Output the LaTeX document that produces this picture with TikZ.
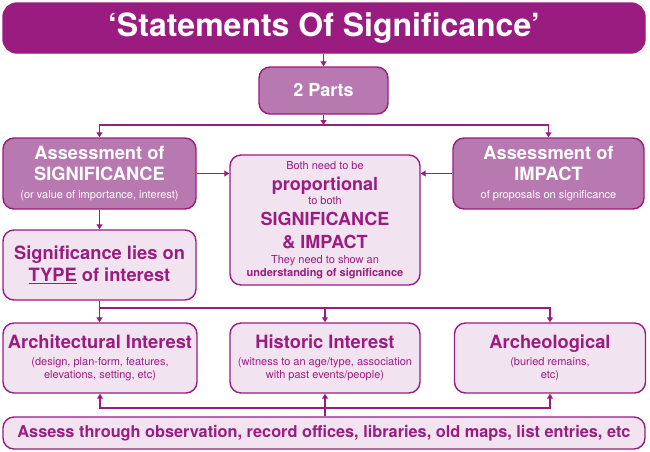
\documentclass[tikz,border=0pt]{standalone}
\usepackage{fontspec}
\setmainfont{TeX Gyre Heros}
\usetikzlibrary{arrows.meta}
\definecolor{dp}{RGB}{155,28,128}
\definecolor{mp}{RGB}{184,120,176}
\definecolor{lp}{RGB}{241,227,240}
\tikzset{
  box/.style={draw=dp, line width=1.4pt, rounded corners=11pt, inner sep=0pt, align=center},
  darkbox/.style={box, fill=dp, text=white},
  midbox/.style={box, fill=mp, text=white},
  lightbox/.style={box, fill=lp, text=dp},
  conn/.style={draw=dp, line width=1.1pt},
  arr/.style={conn, -{Triangle[length=5pt,width=6pt]}},
}
\newcommand{\bigb}{\bfseries\fontsize{18.3}{21}\selectfont}
\newcommand{\smallr}{\mdseries\fontsize{11}{13}\selectfont}
\begin{document}
\begin{tikzpicture}[x=1pt,y=-1pt]
\fill[white] (0,0) rectangle (650,451);
\useasboundingbox (0,0) rectangle (650,451);

\node[darkbox, minimum width=642pt, minimum height=50pt, rounded corners=14pt,
      font=\bfseries\fontsize{32}{36}\selectfont] (title) at (324,28) {‘Statements Of Significance’};

\node[midbox, minimum width=129pt, minimum height=47pt, font=\bfseries\fontsize{18}{21}\selectfont]
  (parts) at (323.5,90.5) {2 Parts};

\node[midbox, minimum width=193pt, minimum height=71pt, font=\bigb] (asig) at (99.5,173.5)
  {Assessment of\\SIGNIFICANCE\\[-3pt]{\smallr (or value of importance, interest)}};

\node[midbox, minimum width=191pt, minimum height=71pt, font=\bigb] (aimp) at (548.5,173.5)
  {Assessment of\\IMPACT\\[-3pt]{\smallr of proposals on significance}};

\node[lightbox, minimum width=190pt, minimum height=130pt, font=\smallr] (central) at (325,220)
  {Both need to be\\[6.5pt]
   {\bfseries\fontsize{18}{18}\selectfont proportional}\\[0.5pt]
   to both\\[6.5pt]
   {\bfseries\fontsize{18}{18}\selectfont SIGNIFICANCE}\\[9pt]
   {\bfseries\fontsize{18}{18}\selectfont \& IMPACT}\\[1.5pt]
   They need to show an\\
   {\bfseries understanding of significance}};

\node[lightbox, minimum width=193pt, minimum height=70pt, font=\bigb] (sigtype) at (99.5,265)
  {Significance lies on\\[1pt]\underline{TYPE} of interest};

\node[lightbox, minimum width=194pt, minimum height=70pt, font=\smallr] (arch) at (100,358)
  {{\bigb Architectural Interest}\\[4pt]
   (design, plan-form, features,\\elevations, setting, etc)};

\node[lightbox, minimum width=190pt, minimum height=70pt, font=\smallr] (hist) at (325,358)
  {{\bigb Historic Interest}\\[4pt]
   (witness to an age/type, association\\with past events/people)};

\node[lightbox, minimum width=191pt, minimum height=70pt, font=\smallr] (arche) at (550,358)
  {{\bigb Archeological}\\[4pt]
   (buried remains,\\etc)};

\node[lightbox, minimum width=642pt, minimum height=32pt, font=\bfseries\fontsize{16.3}{19}\selectfont]
  (assess) at (324,433)
  {Assess through observation, record offices, libraries, old maps, list entries, etc};

\coordinate (topbar) at (0,125);
\coordinate (midbar) at (0,308);
\coordinate (botbar) at (0,408);

\draw[arr] (parts.north |- title.south) -- (parts.north);
\draw[arr] (parts.south) -- (parts.south |- topbar);
\draw[arr] (parts.south |- topbar) -| (asig.north);
\draw[arr] (parts.south |- topbar) -| (aimp.north);

\draw[arr] (asig.east) -- (asig.east -| central.west);
\draw[arr] (aimp.west) -- (aimp.west -| central.east);
\draw[arr] (asig.south) -- (sigtype.north);

\draw[arr] (sigtype.south) -- (sigtype.south |- arch.north);
\draw[arr] (sigtype.south |- midbar) -| (hist.north);
\draw[arr] (sigtype.south |- midbar) -| (arche.north);

\draw[arr] (hist.south |- assess.north) -- (hist.south);
\draw[arr] (hist.south |- botbar) -| (arch.south);
\draw[arr] (hist.south |- botbar) -| (arche.south);
\end{tikzpicture}
\end{document}
